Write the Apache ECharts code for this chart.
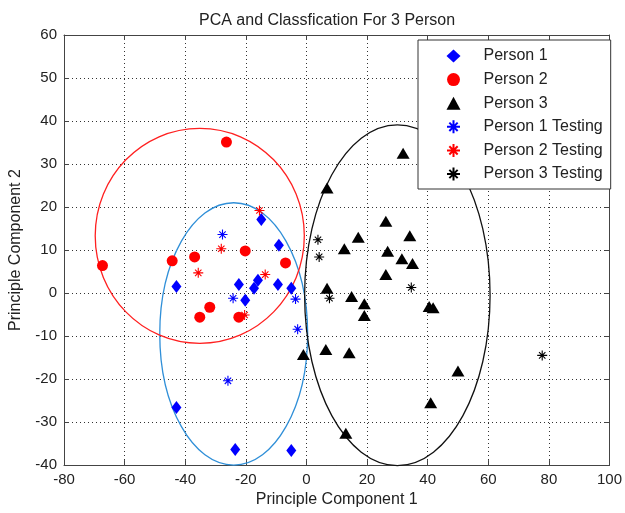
<!DOCTYPE html>
<html>
<head>
<meta charset="utf-8">
<script src="https://cdn.jsdelivr.net/npm/echarts@6/dist/echarts.min.js"></script>
<style>html,body{margin:0;padding:0;background:#fff}#c{width:625px;height:513px}</style>
</head>
<body>
<div id="c"></div>
<script>
var seriesNames = ['Person 1', 'Person 2', 'Person 3', 'Person 1 Testing', 'Person 2 Testing', 'Person 3 Testing'];
var person1 = [[-14.9,17.1],[-9.1,11.1],[-42.9,1.5],[-22.3,2.0],[-16.0,3.0],[-17.3,1.1],[-9.4,2.0],[-5.0,1.1],[-20.2,-1.7],[-42.9,-26.6],[-23.5,-36.4],[-5.0,-36.6]];
var person2 = [[-26.4,35.1],[-67.3,6.4],[-44.3,7.5],[-36.9,8.4],[-20.2,9.8],[-6.9,7.0],[-31.9,-3.3],[-35.2,-5.6],[-22.3,-5.6]];
var person3 = [[6.8,24.4],[31.9,32.5],[26.2,16.7],[17.1,13.0],[34.1,13.3],[12.5,10.3],[26.8,9.7],[31.5,8.0],[35.0,6.9],[26.2,4.3],[6.8,1.1],[14.9,-0.8],[19.1,-2.5],[19.1,-5.2],[40.5,-3.1],[41.8,-3.4],[6.4,-13.1],[14.1,-13.9],[-1.0,-14.3],[50.0,-18.1],[41.0,-25.5],[13.0,-32.6]];
var person1Test = [[-27.7,13.6],[-24.2,-1.2],[-3.6,-1.4],[-2.9,-8.4],[-25.9,-20.4]];
var person2Test = [[-15.5,19.2],[-28.1,10.3],[-35.7,4.7],[-13.6,4.3],[-20.4,-5.1]];
var person3Test = [[3.8,12.4],[4.2,8.4],[7.6,-1.2],[34.6,1.3],[77.8,-14.5]];
// ellipses: [centerX, centerY, radiusX, radiusY]
var ellipse1 = [-24.0, -9.5, 24.4, 30.5];
var ellipse2 = [-35.2, 13.3, 34.5, 25.0];
var ellipse3 = [30.0, -0.5, 30.6, 39.6];
var xTicks = [-80, -60, -40, -20, 0, 20, 40, 60, 80, 100];
var yTicks = [-40, -30, -20, -10, 0, 10, 20, 30, 40, 50, 60];

var FONT = 'Liberation Sans, Arial, Helvetica, sans-serif';
var starPath = 'path://M5,0L5,10M0,5L10,5M1.8,1.8L8.2,8.2M1.8,8.2L8.2,1.8';

function ellipseSeries(params, color) {
  return {
    type: 'custom', silent: true, z: 1,
    data: [params],
    renderItem: function (p, api) {
      var c = api.coord([api.value(0), api.value(1)]);
      var s = api.size([api.value(2), api.value(3)]);
      return {
        type: 'ellipse',
        shape: { cx: c[0], cy: c[1], rx: s[0], ry: s[1] },
        style: { fill: 'none', stroke: color, lineWidth: 1.3 }
      };
    }
  };
}
function starSeries(name, data, color) {
  return {
    name: name, type: 'scatter', data: data, z: 3,
    symbol: starPath, symbolSize: 10,
    itemStyle: { color: color, borderColor: color, borderWidth: 1.1, opacity: 1 }
  };
}

var chart = echarts.init(document.getElementById('c'), null, { renderer: 'canvas' });
var axisCommon = {
  axisLine: { show: true, onZero: false, lineStyle: { color: '#444', width: 1 } },
  axisTick: { show: true, inside: true, length: 5, lineStyle: { color: '#444' } }
};
chart.setOption({
  backgroundColor: '#fff',
  animation: false,
  title: {
    text: 'PCA and Classfication For 3 Person',
    left: 194, top: 8,
    textStyle: { fontFamily: FONT, fontSize: 16, fontWeight: 'normal', color: '#222' }
  },
  legend: {
    data: seriesNames,
    orient: 'vertical',
    left: 418, top: 40,
    padding: [8, 8, 7, 28],
    itemWidth: 14, itemHeight: 13, itemGap: 7.6,
    backgroundColor: '#fff',
    borderColor: '#333', borderWidth: 1,
    textStyle: { fontFamily: FONT, fontSize: 16, color: '#222', padding: [0, 0, 0, 18] }
  },
  grid: { left: 64, right: 13, top: 35, bottom: 45 },
  xAxis: [
    Object.assign({}, axisCommon, {
      type: 'value', min: xTicks[0], max: xTicks[xTicks.length - 1], interval: 20,
      name: 'Principle Component 1', nameLocation: 'middle', nameGap: 26,
      nameTextStyle: { fontFamily: FONT, fontSize: 16, color: '#222' },
      axisLabel: { fontFamily: FONT, fontSize: 15, color: '#222', margin: 7 },
      splitLine: { show: true, lineStyle: { color: '#333', type: [1, 3], width: 1 } }
    }),
    Object.assign({}, axisCommon, {
      type: 'value', position: 'top', min: xTicks[0], max: xTicks[xTicks.length - 1], interval: 20,
      axisLabel: { show: false }, splitLine: { show: false }
    })
  ],
  yAxis: [
    Object.assign({}, axisCommon, {
      type: 'value', min: yTicks[0], max: yTicks[yTicks.length - 1], interval: 10,
      name: 'Principle Component 2', nameLocation: 'middle', nameGap: 40,
      nameTextStyle: { fontFamily: FONT, fontSize: 16, color: '#222' },
      axisLabel: { fontFamily: FONT, fontSize: 15, color: '#222', margin: 7 },
      splitLine: { show: true, lineStyle: { color: '#333', type: [1, 3], width: 1 } }
    }),
    Object.assign({}, axisCommon, {
      type: 'value', position: 'right', min: yTicks[0], max: yTicks[yTicks.length - 1], interval: 10,
      axisLabel: { show: false }, splitLine: { show: false }
    })
  ],
  series: [
    { name: seriesNames[0], type: 'scatter', data: person1, z: 3, symbol: 'diamond', symbolSize: [10, 13], itemStyle: { color: '#0000ff', opacity: 1 } },
    { name: seriesNames[1], type: 'scatter', data: person2, z: 3, symbol: 'circle', symbolSize: 11, itemStyle: { color: '#ff0000', opacity: 1 } },
    { name: seriesNames[2], type: 'scatter', data: person3, z: 3, symbol: 'triangle', symbolSize: [13, 11], itemStyle: { color: '#000000', opacity: 1 } },
    starSeries(seriesNames[3], person1Test, '#0000ff'),
    starSeries(seriesNames[4], person2Test, '#ff0000'),
    starSeries(seriesNames[5], person3Test, '#000000'),
    ellipseSeries(ellipse1, '#2f8fd8'),
    ellipseSeries(ellipse2, '#ff2020'),
    ellipseSeries(ellipse3, '#111111')
  ]
});
</script>
</body>
</html>
